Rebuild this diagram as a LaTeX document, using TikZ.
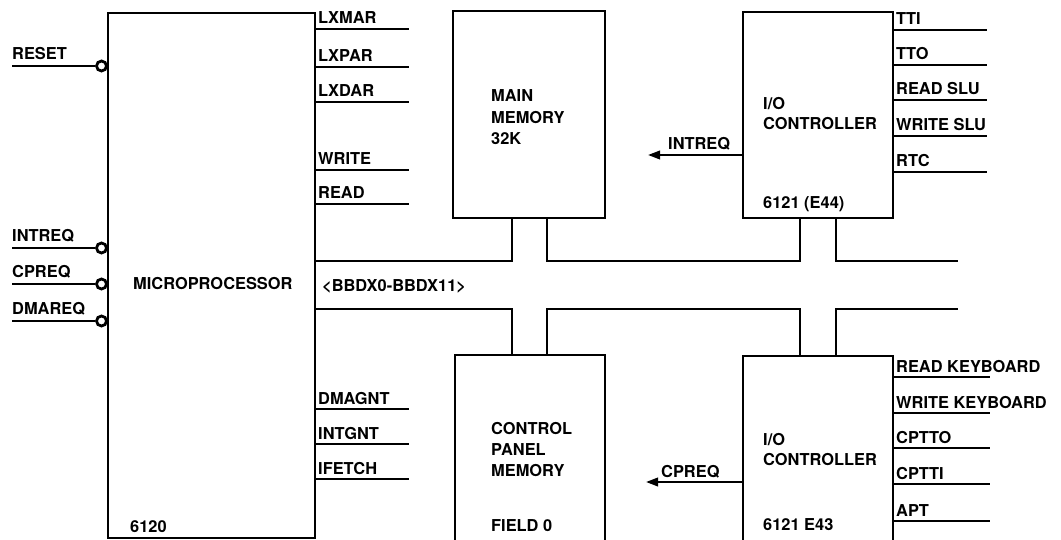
\documentclass[tikz,border=0pt]{standalone}
\usepackage{fontspec}
\setmainfont{TeX Gyre Heros}
\usetikzlibrary{arrows.meta}
\tikzset{
  box/.style={draw, line width=2.8pt, rectangle, inner sep=0pt},
  sig/.style={line width=2.2pt},
  bus/.style={line width=2.8pt, line join=miter},
  lbl/.style={anchor=base west, inner sep=0pt, font=\fontsize{16.4}{18}\selectfont\bfseries},
  bubble/.style={draw, circle, line width=2.8pt, minimum size=10pt, inner sep=0pt, fill=white},
  arr/.style={line width=2.2pt, -{Triangle[length=12pt,width=8.5pt]}}
}
\begin{document}
\begin{tikzpicture}[x=1pt,y=-1pt]
\useasboundingbox (0,0) rectangle (1061,540);
% boxes
\node[box, minimum width=207pt, minimum height=525pt] (mp) at (211.5,275.5) {};
\node[box, minimum width=152pt, minimum height=207pt] (mm) at (529,114.5) {};
\node[box, minimum width=150pt, minimum height=195pt] (cpm) at (530,452.5) {};
\node[box, minimum width=150pt, minimum height=206pt] (io1) at (818,115) {};
\node[box, minimum width=150pt, minimum height=194pt] (io2) at (818,453) {};
% box texts
\node[lbl] (mptxt) at (133,290) {MICROPROCESSOR};
\node[lbl] (mpnum) at (130,532) {6120};
\node[lbl] (bustxt) at (322,291) {<BBDX0-BBDX11>};
\node[lbl] (mm1) at (491,102) {MAIN};
\node[lbl] (mm2) at (491,123.5) {MEMORY};
\node[lbl] (mm3) at (491,145) {32K};
\node[lbl] (cp1) at (491,434) {CONTROL};
\node[lbl] (cp2) at (491,455) {PANEL};
\node[lbl] (cp3) at (491,476) {MEMORY};
\node[lbl] (cp4) at (491,531) {FIELD 0};
\node[lbl] (ia1) at (763,110) {I/O};
\node[lbl] (ia2) at (763,129.5) {CONTROLLER};
\node[lbl] (ia3) at (763,209) {6121 (E44)};
\node[lbl] (ib1) at (763,445) {I/O};
\node[lbl] (ib2) at (763,465) {CONTROLLER};
\node[lbl] (ib3) at (763,530) {6121 E43};
% left inputs with bubbles
\foreach \y/\t [count=\i] in {66/RESET, 248/INTREQ, 284/CPREQ, 321/DMAREQ} {
  \node[bubble] (b\i) at (101.5,\y) {};
  \coordinate (li\i) at (12,\y);
  \draw[sig] (li\i) -- (b\i.west);
  \node[lbl] (ll\i) at (12,\y-6) {\t};
}
% microprocessor outputs
\foreach \y/\t [count=\i] in {29/LXMAR, 67/LXPAR, 102/LXDAR, 170/WRITE, 204/READ, 409/DMAGNT, 444/INTGNT, 479/IFETCH} {
  \coordinate (mo\i) at (409,\y);
  \draw[sig] (mp.east |- mo\i) -- (mo\i);
  \node[lbl] (ml\i) at (318,\y-5) {\t};
}
% upper io outputs
\foreach \y/\t [count=\i] in {30/TTI, 65/TTO, 100/READ SLU, 136/WRITE SLU, 172/RTC} {
  \coordinate (uo\i) at (987,\y);
  \draw[sig] (io1.east |- uo\i) -- (uo\i);
  \node[lbl] (ul\i) at (896,\y-5) {\t};
}
% lower io outputs
\foreach \y/\t [count=\i] in {377/READ KEYBOARD, 413/WRITE KEYBOARD, 448/CPTTO, 484/CPTTI, 521/APT} {
  \coordinate (lo\i) at (990,\y);
  \draw[sig] (io2.east |- lo\i) -- (lo\i);
  \node[lbl] (lol\i) at (896,\y-5) {\t};
}
% interrupt arrows
\coordinate (iat) at (648,155);
\draw[arr] (io1.west |- iat) -- (iat);
\node[lbl] (ial) at (668,150) {INTREQ};
\coordinate (cat) at (646,482);
\draw[arr] (io2.west |- cat) -- (cat);
\node[lbl] (cal) at (661,477) {CPREQ};
% bus
\coordinate (bu) at (0,261);
\coordinate (bl) at (0,309);
\coordinate (bue) at (958,261);
\coordinate (ble) at (958,309);
\coordinate (m1) at ([xshift=-17pt]mm.south);
\coordinate (m2) at ([xshift=18pt]mm.south);
\coordinate (i1) at ([xshift=-18pt]io1.south);
\coordinate (i2) at ([xshift=18pt]io1.south);
\coordinate (c1) at ([xshift=-18pt]cpm.north);
\coordinate (c2) at ([xshift=17pt]cpm.north);
\coordinate (j1) at ([xshift=-18pt]io2.north);
\coordinate (j2) at ([xshift=18pt]io2.north);
\draw[bus] (mp.east |- bu) -| (m1);
\draw[bus] (m2) |- (i1 |- bu) -- (i1);
\draw[bus] (i2) |- (bue);
\draw[bus] (mp.east |- bl) -| (c1);
\draw[bus] (c2) |- (j1 |- bl) -- (j1);
\draw[bus] (j2) |- (ble);
\end{tikzpicture}
\end{document}
